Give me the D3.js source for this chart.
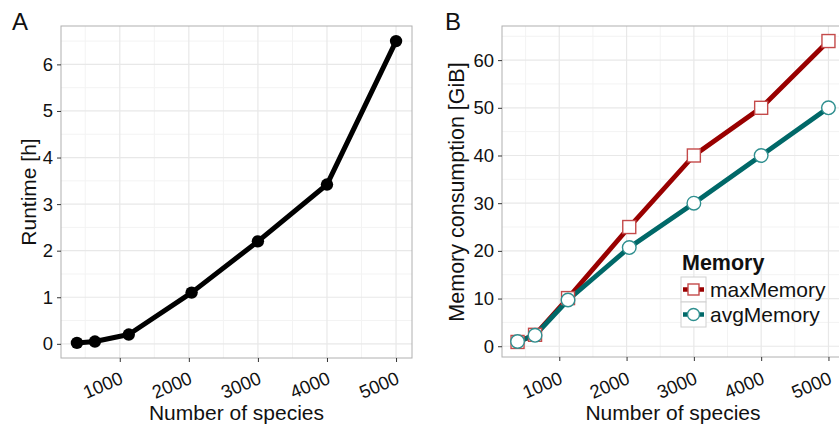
<!DOCTYPE html>
<html>
<head>
<meta charset="utf-8">
<script src="https://cdn.jsdelivr.net/npm/d3@7"></script>
<style>
  body { margin: 0; background: #fff; }
  svg { display: block; font-family: "Liberation Sans", Arial, sans-serif; }
</style>
</head>
<body>
<svg id="chart" width="839" height="427"></svg>
<script>
// ---- data ----
const species = [380, 640, 1130, 2040, 3000, 4000, 5000];
const runtimeHours = [0.02, 0.05, 0.2, 1.1, 2.2, 3.42, 6.5];
const maxMemory = [0.9, 2.4, 10.1, 25, 40, 50, 64];
const avgMemory = [1.0, 2.3, 9.7, 20.7, 30, 40, 50];
const xTicks = [1000, 2000, 3000, 4000, 5000];
const runtimeTicks = [0, 1, 2, 3, 4, 5, 6];
const memoryTicks = [0, 10, 20, 30, 40, 50, 60];
const seriesNames = ["maxMemory", "avgMemory"];

const svg = d3.select("#chart");

function expand(ext, f = 0.05) {
  const r = ext[1] - ext[0];
  return [ext[0] - r * f, ext[1] + r * f];
}

function panel(opts) {
  const { left, right, top, bottom, xDomain, yDomain, yTicks, xMinor, yMinor } = opts;
  const x = d3.scaleLinear().domain(xDomain).range([left, right]);
  const y = d3.scaleLinear().domain(yDomain).range([bottom, top]);
  const g = svg.append("g");
  const clipId = "clip" + left;
  svg.append("clipPath").attr("id", clipId)
    .append("rect").attr("x", left).attr("y", top).attr("width", right - left).attr("height", bottom - top);
  const grid = g.append("g").attr("clip-path", `url(#${clipId})`);
  grid.selectAll(".xmin").data(xMinor).join("line")
    .attr("x1", d => x(d)).attr("x2", d => x(d)).attr("y1", top).attr("y2", bottom)
    .attr("stroke", "#f3f3f3").attr("stroke-width", 1);
  grid.selectAll(".ymin").data(yMinor).join("line")
    .attr("y1", d => y(d)).attr("y2", d => y(d)).attr("x1", left).attr("x2", right)
    .attr("stroke", "#f3f3f3").attr("stroke-width", 1);
  grid.selectAll(".xmaj").data(xTicks).join("line")
    .attr("x1", d => x(d)).attr("x2", d => x(d)).attr("y1", top).attr("y2", bottom)
    .attr("stroke", "#e8e8e8").attr("stroke-width", 1.2);
  grid.selectAll(".ymaj").data(yTicks).join("line")
    .attr("y1", d => y(d)).attr("y2", d => y(d)).attr("x1", left).attr("x2", right)
    .attr("stroke", "#e8e8e8").attr("stroke-width", 1.2);
  g.append("rect").attr("x", left).attr("y", top).attr("width", right - left).attr("height", bottom - top)
    .attr("fill", "none").attr("stroke", "#b0b0b0").attr("stroke-width", 1);

  // y axis
  const ya = g.append("g").attr("transform", `translate(${left},0)`)
    .call(d3.axisLeft(y).tickValues(yTicks).tickSize(4).tickPadding(4).tickFormat(d3.format("d")));
  ya.select(".domain").remove();
  ya.selectAll(".tick line").attr("stroke", "#333");
  ya.selectAll(".tick text").attr("fill", "#111").style("font-size", "18.5px")
    .style("font-family", '"Liberation Sans", Arial, sans-serif');

  // x axis
  const xa = g.append("g").attr("transform", `translate(0,${bottom})`)
    .call(d3.axisBottom(x).tickValues(xTicks).tickSize(4).tickFormat(d3.format("d")));
  xa.select(".domain").remove();
  xa.selectAll(".tick line").attr("stroke", "#333");
  xa.selectAll(".tick text")
    .attr("fill", "#111").style("font-size", "18.5px")
    .style("font-family", '"Liberation Sans", Arial, sans-serif')
    .attr("text-anchor", "end").attr("y", 0).attr("dy", 0)
    .attr("transform", `translate(4,${383 - bottom}) rotate(-23)`);
  return { x, y, g, clipId };
}

// ---------- Panel A ----------
const xDom = expand(d3.extent(species));
const minorX = [500, 1500, 2500, 3500, 4500];
const A = panel({
  left: 61, right: 412, top: 26, bottom: 358,
  xDomain: xDom, yDomain: expand(d3.extent(runtimeHours)),
  yTicks: runtimeTicks, xMinor: minorX,
  yMinor: [0.5, 1.5, 2.5, 3.5, 4.5, 5.5, 6.5]
});
const runData = species.map((s, i) => ({ s, v: runtimeHours[i] }));
A.g.append("path").datum(runData)
  .attr("fill", "none").attr("stroke", "#000").attr("stroke-width", 5)
  .attr("stroke-linejoin", "round")
  .attr("d", d3.line().x(d => A.x(d.s)).y(d => A.y(d.v)));
A.g.selectAll(".pt").data(runData).join("circle")
  .attr("cx", d => A.x(d.s)).attr("cy", d => A.y(d.v)).attr("r", 6.2).attr("fill", "#000");

svg.append("text").attr("x", 12).attr("y", 30).text("A")
  .style("font-size", "24px").attr("fill", "#111");
svg.append("text").attr("transform", "translate(36,192) rotate(-90)")
  .attr("text-anchor", "middle").style("font-size", "21px").attr("fill", "#111").text("Runtime [h]");
svg.append("text").attr("x", 236.5).attr("y", 420).attr("text-anchor", "middle")
  .style("font-size", "21px").attr("fill", "#111").text("Number of species");

// ---------- Panel B ----------
const B = panel({
  left: 502, right: 844, top: 26, bottom: 357,
  xDomain: xDom, yDomain: expand([d3.min(maxMemory.concat(avgMemory)), d3.max(maxMemory.concat(avgMemory))]),
  yTicks: memoryTicks, xMinor: minorX,
  yMinor: [5, 15, 25, 35, 45, 55, 65]
});
const colors = { maxMemory: "#990000", avgMemory: "#006868" };
const markerStroke = { maxMemory: "#c44a4a", avgMemory: "#2f8f8f" };
const series = [
  { name: "maxMemory", values: maxMemory },
  { name: "avgMemory", values: avgMemory }
];
series.forEach(sr => {
  const pts = species.map((s, i) => ({ s, v: sr.values[i] }));
  B.g.append("path").datum(pts)
    .attr("fill", "none").attr("stroke", colors[sr.name]).attr("stroke-width", 4.8)
    .attr("stroke-linejoin", "round")
    .attr("d", d3.line().x(d => B.x(d.s)).y(d => B.y(d.v)));
});
series.forEach(sr => {
  const pts = species.map((s, i) => ({ s, v: sr.values[i] }));
  if (sr.name === "maxMemory") {
    B.g.selectAll(".sq").data(pts).join("rect")
      .attr("x", d => B.x(d.s) - 6.5).attr("y", d => B.y(d.v) - 6.5)
      .attr("width", 13).attr("height", 13)
      .attr("fill", "#fff").attr("stroke", markerStroke[sr.name]).attr("stroke-width", 1.4);
  } else {
    B.g.selectAll(".ci").data(pts).join("circle")
      .attr("cx", d => B.x(d.s)).attr("cy", d => B.y(d.v)).attr("r", 6.8)
      .attr("fill", "#fff").attr("stroke", markerStroke[sr.name]).attr("stroke-width", 1.4);
  }
});

svg.append("text").attr("x", 445).attr("y", 30).text("B")
  .style("font-size", "24px").attr("fill", "#111");
svg.append("text").attr("transform", "translate(464,192) rotate(-90)")
  .attr("text-anchor", "middle").style("font-size", "21.5px").attr("fill", "#111").text("Memory consumption [GiB]");
svg.append("text").attr("x", 673).attr("y", 420).attr("text-anchor", "middle")
  .style("font-size", "21px").attr("fill", "#111").text("Number of species");

// legend
const lg = svg.append("g");
lg.append("text").attr("x", 682).attr("y", 270).text("Memory")
  .style("font-size", "21.5px").style("font-weight", "bold").attr("fill", "#111");
seriesNames.forEach((name, i) => {
  const ky = 277 + i * 25;
  lg.append("rect").attr("x", 681).attr("y", ky).attr("width", 25).attr("height", 25)
    .attr("fill", "#fff").attr("stroke", "#d0d0d0").attr("stroke-width", 1);
  lg.append("line").attr("x1", 683).attr("x2", 704).attr("y1", ky + 12.5).attr("y2", ky + 12.5)
    .attr("stroke", colors[name]).attr("stroke-width", 4.5);
  if (name === "maxMemory") {
    lg.append("rect").attr("x", 693.5 - 5.5).attr("y", ky + 12.5 - 5.5).attr("width", 11).attr("height", 11)
      .attr("fill", "#fff").attr("stroke", markerStroke[name]).attr("stroke-width", 1.4);
  } else {
    lg.append("circle").attr("cx", 693.5).attr("cy", ky + 12.5).attr("r", 6)
      .attr("fill", "#fff").attr("stroke", markerStroke[name]).attr("stroke-width", 1.4);
  }
  lg.append("text").attr("x", 710).attr("y", ky + 19.5).text(name)
    .style("font-size", "21px").attr("fill", "#111");
});
</script>
</body>
</html>
